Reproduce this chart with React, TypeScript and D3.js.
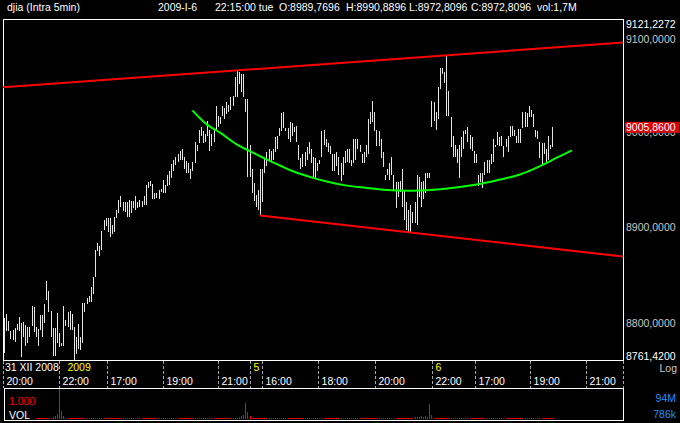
import React from "react";
import * as d3 from "d3";

// ---------- DATA ----------
const highs = [
  8805, 8809, 8802, 8791, 8793, 8795, 8799, 8806, 8800, 8801,
  8798, 8796, 8796, 8817, 8816, 8796, 8794, 8808, 8808, 8819,
  8843, 8833, 8812, 8795, 8795, 8810, 8789, 8779, 8817, 8803,
  8811, 8812, 8809, 8796, 8785, 8799, 8785, 8821, 8821, 8826,
  8828, 8837, 8848, 8876, 8883, 8880, 8896, 8907, 8910, 8910,
  8909, 8902, 8911, 8918, 8928, 8933, 8926, 8926, 8926, 8928,
  8927, 8927, 8933, 8926, 8928, 8927, 8933, 8944, 8947, 8949,
  8945, 8936, 8936, 8939, 8940, 8950, 8944, 8955, 8959, 8966,
  8971, 8974, 8977, 8980, 8982, 8974, 8970, 8968, 8961, 8969,
  8990, 8987, 9002, 9006, 9001, 8998, 9012, 9003, 8998, 9002,
  9028, 9017, 9016, 9028, 9026, 9032, 9029, 9038, 9039, 9059,
  9065, 9064, 9062, 9062, 9035, 9035, 8987, 8961, 8946, 8934,
  8939, 8961, 8961, 8973, 8979, 8982, 8980, 8982, 8995, 8996,
  9005, 9021, 9022, 9005, 9005, 9011, 9010, 9006, 9007, 8987,
  8973, 8977, 8979, 8984, 8990, 8982, 8974, 8973, 8968, 8971,
  9001, 9003, 8993, 8989, 8985, 8977, 8977, 8979, 8974, 8968,
  8974, 8980, 8982, 8982, 8971, 8993, 8993, 8993, 8987, 8977,
  8979, 8987, 9014, 9022, 9033, 9022, 9003, 9001, 8993, 8979,
  8955, 8961, 8968, 8974, 8955, 8947, 8947, 8948, 8961, 8939,
  8926, 8918, 8923, 8916, 8926, 8955, 8953, 8947, 8948, 8957,
  8957, 8957, 9033, 9032, 9022, 9048, 9069, 9069, 9064, 9081,
  9044, 9016, 8996, 8987, 8982, 8987, 8995, 9001, 9003, 9006,
  8997, 8995, 8980, 8977, 8955, 8957, 8957, 8969, 8971, 8971,
  8977, 8993, 8987, 9000, 8995, 8996, 8985, 8993, 8996, 9007,
  9007, 9003, 8996, 9004, 9004, 9022, 9022, 9021, 9028, 9024,
  9020, 9003, 9001, 8990, 8989, 8989, 8982, 8996, 8987, 9006,
];

const lows = [
  8769, 8791, 8791, 8783, 8782, 8780, 8792, 8791, 8765, 8785,
  8776, 8779, 8785, 8797, 8790, 8785, 8776, 8793, 8785, 8800,
  8824, 8811, 8785, 8766, 8766, 8779, 8775, 8776, 8776, 8797,
  8796, 8793, 8793, 8761.42, 8768, 8773, 8772, 8779, 8811, 8820,
  8822, 8822, 8830, 8848, 8875, 8870, 8876, 8897, 8901, 8895,
  8890, 8893, 8895, 8909, 8915, 8921, 8917, 8916, 8911, 8911,
  8915, 8920, 8918, 8920, 8921, 8921, 8923, 8923, 8941, 8943,
  8929, 8930, 8931, 8929, 8937, 8936, 8936, 8943, 8944, 8952,
  8959, 8965, 8969, 8971, 8971, 8961, 8957, 8957, 8951, 8959,
  8968, 8980, 8989, 8996, 8989, 8990, 8996, 8980, 8985, 8990,
  9002, 9006, 9009, 9017, 9014, 9019, 9022, 9024, 9028, 9038,
  9038, 9051, 9043, 9038, 9022, 8953, 8953, 8936, 8927, 8921,
  8918, 8913, 8926, 8957, 8964, 8971, 8969, 8971, 8979, 8982,
  8996, 9001, 9005, 9001, 8993, 8990, 8996, 9000, 8990, 8971,
  8961, 8963, 8964, 8971, 8977, 8968, 8952, 8952, 8959, 8966,
  8974, 8987, 8984, 8979, 8977, 8959, 8959, 8964, 8955, 8948,
  8955, 8968, 8969, 8968, 8964, 8968, 8971, 8982, 8979, 8968,
  8968, 8974, 8977, 9009, 9011, 9001, 8985, 8985, 8973, 8963,
  8950, 8955, 8950, 8955, 8939, 8920, 8932, 8937, 8921, 8907,
  8897, 8894, 8894, 8904, 8904, 8902, 8932, 8921, 8929, 8936,
  8952, 8952, 9006, 9012, 9003, 9014, 9046, 9062, 9053, 9017,
  9017, 8984, 8974, 8974, 8968, 8952, 8974, 8982, 8998, 8990,
  8982, 8980, 8968, 8968, 8943, 8947, 8941, 8955, 8957, 8957,
  8966, 8969, 8984, 8987, 8985, 8985, 8974, 8984, 8979, 8995,
  8996, 8996, 8989, 8989, 8989, 9005, 9006, 9006, 9016, 9016,
  9006, 8995, 8993, 8973, 8964, 8977, 8966, 8971, 8982, 8984,
];

// volume in millions
const volumes = [
  0, 0, 0, 0, 0, 0, 0, 0, 0, 0, 0, 0, 0, 0, 0, 2.4, 2.8, 2.6, 3.1, 2.9,
  3.2, 3.5, 4.6, 6.2, 9.4, 15.6, 94, 24.8, 9.2, 3.4, 2.6, 2.2, 2.5, 2.8, 2.4, 2.6, 2.3, 2.7, 2.2, 2.5,
  2.4, 2.2, 2.6, 2.9, 2.5, 2.3, 2.1, 2.4, 2.6, 2.2, 2.3, 2.5, 2.1, 2.4, 2.2, 2.6, 2.3, 2.1, 2.5, 2.2,
  2.4, 2.3, 2.1, 2.2, 2.5, 2.3, 2.2, 2.4, 2.1, 2.3, 2.6, 2.2, 2.4, 2.1, 2.3, 2.5, 2.2, 2.4, 2.3, 2.6,
  2.2, 2.5, 2.3, 2.4, 2.2, 2.6, 2.3, 2.5, 2.4, 2.7, 2.5, 2.8, 2.6, 2.9, 2.7, 3.1, 2.8, 3.0, 3.2, 2.9,
  3.1, 3.3, 3.0, 3.4, 3.2, 3.5, 3.3, 3.6, 3.8, 4.2, 4.6, 7.8, 9.4, 12.5, 50, 21.9, 9.4, 3.1, 2.8, 2.6,
  2.7, 2.5, 2.4, 2.6, 2.3, 2.5, 2.2, 2.4, 2.3, 2.1, 2.4, 2.2, 2.5, 2.3, 2.1, 2.4, 2.2, 2.3, 2.5, 2.1,
  2.3, 2.2, 2.4, 2.1, 2.3, 2.5, 2.2, 2.4, 2.1, 2.3, 2.2, 2.4, 2.1, 2.3, 2.2, 2.5, 2.3, 2.4, 2.2, 2.6,
  2.3, 2.5, 2.4, 2.6, 2.3, 2.7, 2.5, 2.4, 2.6, 2.8, 2.5, 2.7, 2.6, 2.9, 2.7, 3.0, 2.8, 3.1, 2.9, 3.2,
  3.0, 3.3, 3.1, 3.4, 3.2, 3.5, 3.3, 3.6, 3.4, 3.7, 3.5, 3.8, 4.1, 4.4, 5.2, 6.1, 7.2, 8.4, 6.8, 9.4,
  5.3, 48, 12.5, 4.7, 3.4, 2.9, 2.6, 2.8, 2.5, 2.3, 2.6, 2.4, 2.2, 2.5, 2.3, 2.1, 2.4, 2.2, 2.5, 2.3,
  2.1, 2.4, 2.2, 2.3, 2.5, 2.2, 2.4, 2.1, 2.3, 2.2, 2.4, 2.1, 2.3, 2.5, 2.2, 2.4, 2.3, 2.1, 2.4, 2.2,
  2.3, 2.5, 2.2, 2.4, 2.1, 2.3, 2.2, 2.4, 2.3, 2.1, 2.4, 2.2, 2.5, 2.3, 2.2, 2.4, 2.1, 2.3, 2.2, 2.4,
];

const priceTicks = [9121.2272, 9100, 9000, 8900, 8800, 8761.42];
const markerValue = 9005.86;

const timeTickIdx = [-0.5, 26, 48.65, 75.1, 101.1, 121.9, 148.4, 175.3, 202.2, 222.6, 248.6, 275.0];
const timeTickLabels = ["20:00", "22:00", "17:00", "19:00", "21:00", "16:00", "18:00", "20:00", "22:00", "17:00", "19:00", "21:00"];
const dayLabels = ["31 XII 2008", "2009", "5", "6"];
const dayLabelIdx = [-1.2, 28.3, 116.2, 202.2];
const dayBoundaryIdx = [116.2];

const upperTrendIdx = [-0.5, 292.5];
const upperTrendVal = [9048, 9096];
const lowerTrendIdx = [121, 292.5];
const lowerTrendVal = [8912, 8869];

const fitIdx = [89.0, 95.8, 102.1, 109.9, 116.2, 124.1, 130.4, 136.5, 146.0, 154.0, 161.9, 171.4, 180.8, 193.3, 207.4, 223.4, 234.4, 243.8, 253.3, 261.2, 268.3];
const fitVal = [9023.4, 9008.5, 8999.7, 8987.2, 8980.1, 8971.3, 8964.9, 8958.8, 8951.8, 8947.1, 8943.6, 8941.2, 8939.0, 8938.3, 8940.1, 8944.7, 8950.0, 8955.3, 8964.2, 8973.1, 8980.9];

const headerTexts = ["djia (Intra 5min)", "2009-I-6", "22:15:00 tue", "O:8989,7696", "H:8990,8896", "L:8972,8096", "C:8972,8096", "vol:1,7M"];
const volMaxLabel = "94M";
const volMinLabel = "786k";
const volMax = 94;

// ---------- LAYOUT ----------
const W = 680;
const H = 423;
const L = 3;
const R = 623;
const T = 19;
const B = 360;
const VT = 388;
const VB = 420;
const headerX = [7, 158, 215, 279, 346, 409, 471, 537];
const FONT = "'Liberation Sans', Arial, sans-serif";
const FS = 10.5;

function fmt(v: number) {
  return v.toFixed(4).replace(".", ",");
}

export default function App() {
  const xs = d3.scaleLinear().domain([-0.5, 292.5]).range([L, R]);
  const ys = d3.scaleLog().domain([8761.42, 9121.2272]).range([B, T]);
  const vs = d3.scaleLinear().domain([0, volMax]).range([VB - 1, VT + 1]);

  const fitLine = d3
    .line<number>()
    .x((_, i) => xs(fitIdx[i]))
    .y((d) => ys(d))
    .curve(d3.curveCatmullRom)(fitVal) as string;

  const trend = (idx: number[], val: number[]) =>
    d3.line<number>().x((_, i) => xs(idx[i])).y((d) => ys(d))(val) as string;

  const tickLineIdx = [...timeTickIdx, ...dayBoundaryIdx, 292.5];

  return (
    <svg
      width={W}
      height={H}
      style={{ position: "fixed", left: 0, top: 0, display: "block" }}
      fontFamily={FONT}
      fontSize={FS}
    >
      <rect x={0} y={0} width={W} height={H} fill="#000" />

      {/* header */}
      {headerTexts.map((t, i) => (
        <text key={"h" + i} x={headerX[i]} y={11} fill="#fff">
          {t}
        </text>
      ))}

      {/* main frame */}
      <rect x={L + 0.5} y={T + 0.5} width={R - L} height={B - T} fill="none" stroke="#fff" strokeWidth={1} shapeRendering="crispEdges" />

      {/* price bars */}
      <g shapeRendering="crispEdges" fill="#e4e4e4">
        {highs.map((h, i) => {
          const y1 = ys(h);
          const y2 = ys(lows[i]);
          return <rect key={"b" + i} x={Math.round(xs(i))} y={y1} width={1} height={Math.max(1, y2 - y1)} />;
        })}
      </g>

      {/* trend lines */}
      <path d={trend(upperTrendIdx, upperTrendVal)} stroke="#ff0000" strokeWidth={2} fill="none" />
      <path d={trend(lowerTrendIdx, lowerTrendVal)} stroke="#ff0000" strokeWidth={2} fill="none" />
      <path d={fitLine} stroke="#00ff00" strokeWidth={2} fill="none" />

      {/* right axis labels */}
      {priceTicks.map((v, i) => {
        const y = ys(v);
        const isEdge = i === 0 || i === priceTicks.length - 1;
        const base = i === 0 ? y + 8.5 : i === priceTicks.length - 1 ? y - 0.5 : y + 4;
        return (
          <text key={"p" + i} x={626} y={base} fill={isEdge ? "#ffffff" : "#c8c8c8"}>
            {fmt(v)}
          </text>
        );
      })}
      <rect x={625} y={ys(markerValue) - 5} width={54} height={11} fill="#e00000" />
      <text x={626} y={ys(markerValue) + 4} fill="#ffffff">
        {fmt(markerValue)}
      </text>
      <text x={677} y={372} fill="#c8c8c8" textAnchor="end">
        Log
      </text>

      {/* time axis */}
      <g stroke="#a8a8a8" strokeDasharray="3,2" shapeRendering="crispEdges">
        {tickLineIdx.map((t, i) => {
          const x = Math.round(xs(t)) + 0.5;
          return <line key={"g" + i} x1={x} x2={x} y1={B + 1} y2={VT} />;
        })}
      </g>
      {dayLabels.map((d, i) => (
        <text key={"d" + i} x={xs(dayLabelIdx[i]) + 3.5} y={371} fill={i === 0 ? "#ffffff" : "#ffff00"}>
          {d}
        </text>
      ))}
      {timeTickLabels.map((t, i) => (
        <text key={"t" + i} x={xs(timeTickIdx[i]) + 3.5} y={385} fill="#ffffff">
          {t}
        </text>
      ))}

      {/* volume panel */}
      <rect x={L + 1.5} y={VT + 0.5} width={R - L - 1} height={VB - VT} fill="none" stroke="#fff" strokeWidth={1} shapeRendering="crispEdges" />
      <g fill="#ff0000" shapeRendering="crispEdges">
        {volumes.map((v, i) => {
          if (v <= 0) return null;
          const y = vs(v);
          const h = Math.max(1, VB - 1 - y);
          return <rect key={"v" + i} x={Math.round(xs(i))} y={VB - 1 - h} width={1} height={h} />;
        })}
      </g>
      <text x={9} y={405} fill="#ff0000">
        1.000
      </text>
      <text x={9} y={419} fill="#ffffff">
        VOL
      </text>
      <text x={676} y={401.5} fill="#1e90ff" textAnchor="end">
        {volMaxLabel}
      </text>
      <text x={676} y={418} fill="#1e90ff" textAnchor="end">
        {volMinLabel}
      </text>
    </svg>
  );
}
